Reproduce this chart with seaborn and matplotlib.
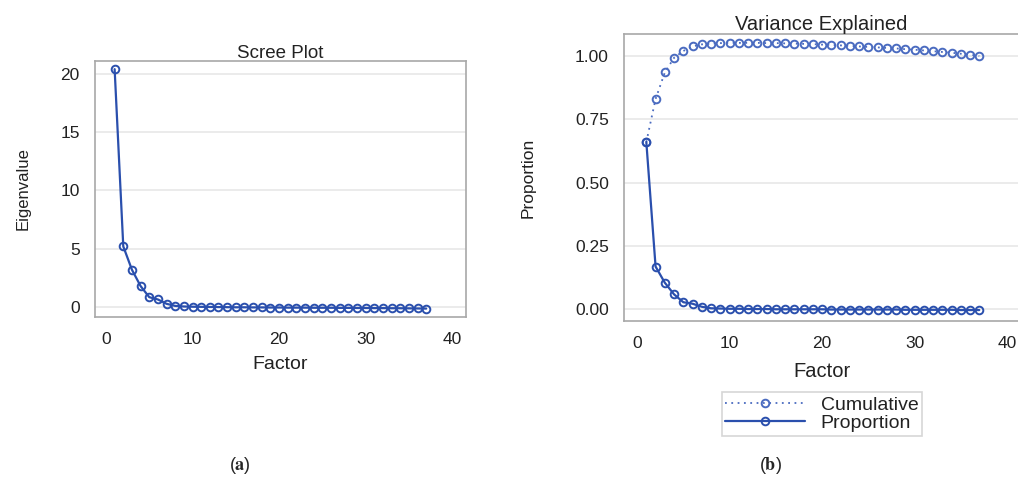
import matplotlib
matplotlib.use("Agg")
import matplotlib.pyplot as plt
import seaborn as sns
import pandas as pd

# 读自参考图的数值
factors = list(range(1, 38))
eigenvalues = [20.4, 5.2, 3.2, 1.8, 0.85, 0.65, 0.28, 0.10, 0.05, 0.03,
               0.02, 0.01, 0.0, -0.01, -0.02, -0.02, -0.03, -0.03, -0.04, -0.04,
               -0.05, -0.05, -0.05, -0.06, -0.06, -0.06, -0.07, -0.07, -0.08, -0.08,
               -0.09, -0.09, -0.10, -0.10, -0.11, -0.12, -0.13]
proportion = [0.660, 0.168, 0.104, 0.058, 0.027, 0.021, 0.009, 0.003, 0.002, 0.001,
              0.001, 0.000, 0.000, 0.000, -0.001, -0.001, -0.001, -0.001, -0.001, -0.001,
              -0.002, -0.002, -0.002, -0.002, -0.002, -0.002, -0.002, -0.002, -0.003, -0.003,
              -0.003, -0.003, -0.003, -0.003, -0.004, -0.004, -0.004]
cumulative = [0.660, 0.830, 0.935, 0.993, 1.020, 1.038, 1.046, 1.049, 1.051, 1.052,
              1.052, 1.052, 1.052, 1.051, 1.051, 1.050, 1.049, 1.048, 1.047, 1.045,
              1.044, 1.042, 1.040, 1.038, 1.036, 1.034, 1.032, 1.030, 1.027, 1.025,
              1.022, 1.019, 1.016, 1.013, 1.009, 1.005, 1.000]

sns.set_style("white")
plt.rcParams["font.family"] = ["Liberation Sans", "DejaVu Sans"]
plt.rcParams["mathtext.fontset"] = "stix"

BLUE = "#2a4fad"
LIGHT = "#4a6bc0"
GRID = "#e8e8e8"
FRAME = "#a8a8a8"
TXT = "#222222"

scree = pd.DataFrame({"Factor": factors, "Eigenvalue": eigenvalues})
var = pd.DataFrame({"Factor": factors, "Cumulative": cumulative, "Proportion": proportion})

fig = plt.figure(figsize=(10.18, 4.79), dpi=100)
ax1 = fig.add_axes([0.0933, 0.338, 0.3645, 0.5347])
ax2 = fig.add_axes([0.613, 0.330, 0.388, 0.599])

mk = dict(marker="o", markersize=5.5, markerfacecolor="none", markeredgewidth=1.4)


def style_axes(ax):
    for s in ax.spines.values():
        s.set_color(FRAME)
        s.set_linewidth(1.2)
    ax.yaxis.grid(True, color=GRID, linewidth=1.2)
    ax.set_axisbelow(True)
    ax.tick_params(axis="both", direction="out", length=5, width=1.2,
                   color=FRAME, labelsize=12.5, labelcolor=TXT, pad=6)


# (a) 碎石图
sns.lineplot(data=scree, x="Factor", y="Eigenvalue", ax=ax1, color=BLUE,
             linewidth=1.6, markeredgecolor=BLUE, **mk)
ax1.set_xlim(-1.27, 41.6)
ax1.set_ylim(-0.86, 21.1)
ax1.set_xticks([0, 10, 20, 30, 40])
ax1.set_yticks([0, 5, 10, 15, 20])
ax1.set_title("Scree Plot", fontsize=13.5, pad=2, color=TXT)
ax1.set_xlabel("Factor", fontsize=14, labelpad=6, color=TXT)
ax1.set_ylabel("Eigenvalue", fontsize=12, labelpad=21, color=TXT)
style_axes(ax1)

# (b) 方差解释
sns.lineplot(data=var, x="Factor", y="Cumulative", ax=ax2, color=LIGHT,
             linewidth=1.3, linestyle=(0, (1, 2.5)), markeredgecolor=LIGHT,
             label="Cumulative", **mk)
sns.lineplot(data=var, x="Factor", y="Proportion", ax=ax2, color=BLUE,
             linewidth=1.6, markeredgecolor=BLUE, label="Proportion", **mk)
ax2.set_xlim(-1.41, 41.3)
ax2.set_ylim(-0.047, 1.087)
ax2.set_xticks([0, 10, 20, 30, 40])
ax2.set_yticks([0, 0.25, 0.5, 0.75, 1.0])
ax2.set_yticklabels(["0.00", "0.25", "0.50", "0.75", "1.00"])
ax2.set_title("Variance Explained", fontsize=14.5, pad=3, color=TXT)
ax2.set_xlabel("Factor", fontsize=14.5, labelpad=8, color=TXT)
ax2.set_ylabel("Proportion", fontsize=12.5, labelpad=28, color=TXT)
style_axes(ax2)

handles, labels = ax2.get_legend_handles_labels()
ax2.get_legend().remove()
leg = fig.legend(handles, labels, loc="center", bbox_to_anchor=(822 / 1018, 1 - 414 / 479),
                 frameon=True, fancybox=False, fontsize=14, handlelength=4.1,
                 borderpad=0.2, labelspacing=0.05, handletextpad=0.8, borderaxespad=0)
leg.get_frame().set_edgecolor("#cccccc")
leg.get_frame().set_linewidth(1.2)
for t in leg.get_texts():
    t.set_color(TXT)

fig.text(240 / 1018, 1 - 466 / 479, r"($\mathbf{a}$)", ha="center", va="center", fontsize=13)
fig.text(770 / 1018, 1 - 466 / 479, r"($\mathbf{b}$)", ha="center", va="center", fontsize=13)

fig.savefig("out.png", dpi=100)
